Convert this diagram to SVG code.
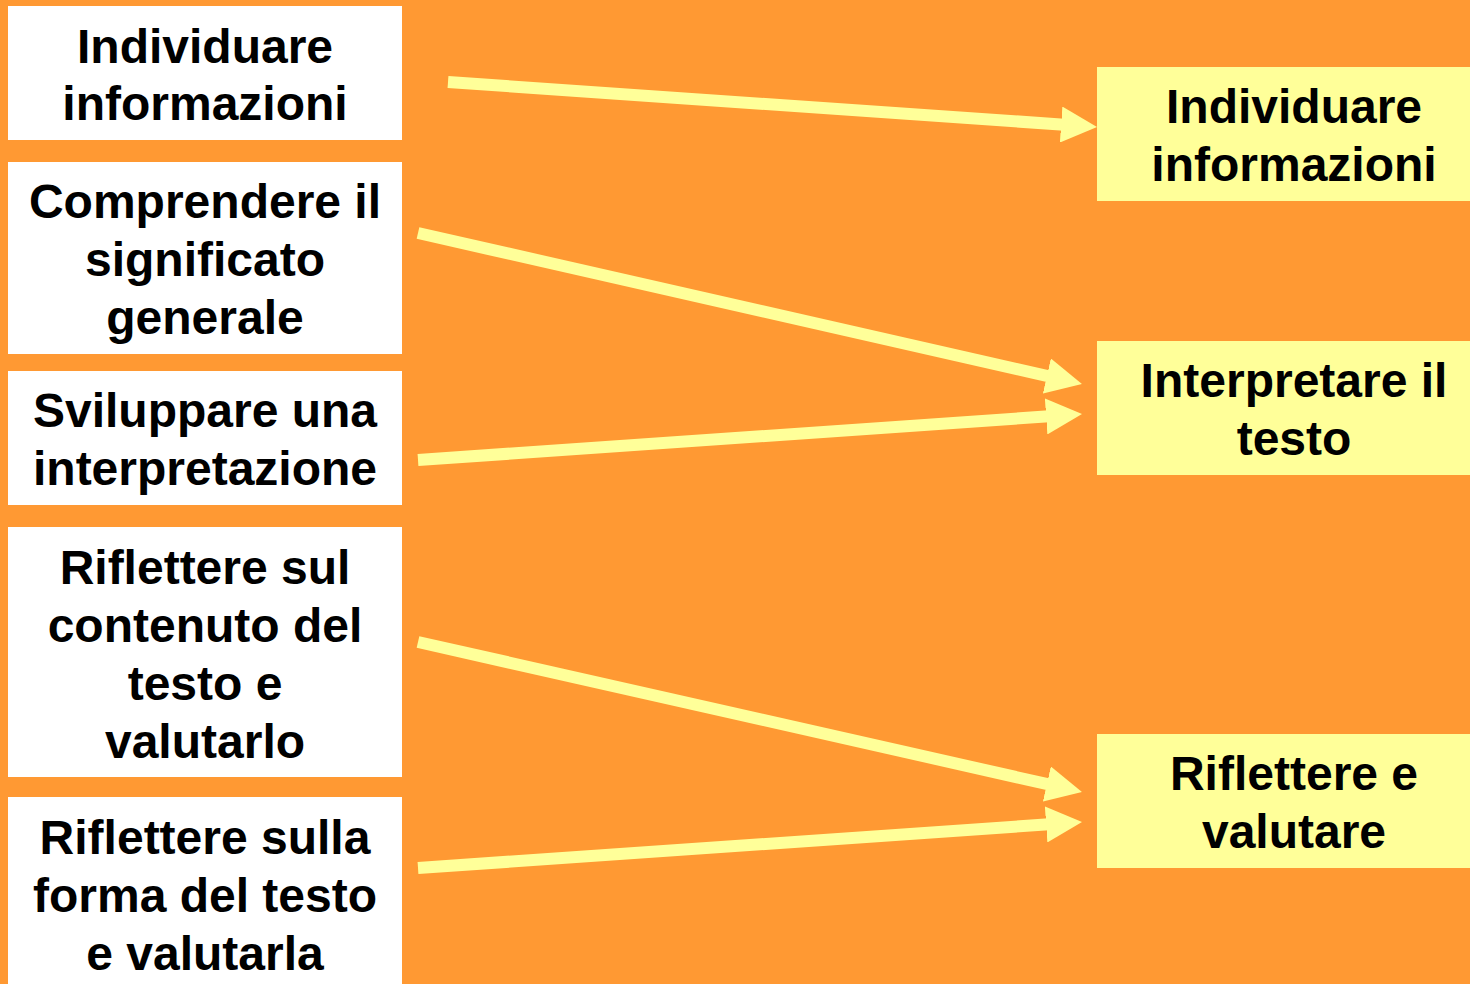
<svg xmlns="http://www.w3.org/2000/svg" width="1470" height="984" viewBox="0 0 1470 984">
<defs>
<style>
.l{fill:#FFFFFF}
.r{fill:#FFFF99}
text{font-family:"Liberation Sans",Arial,sans-serif;font-weight:bold;font-size:48px;fill:#000;text-anchor:middle}
.c line{stroke:#FFFF99;stroke-width:12;fill:none;marker-end:url(#ah)}
</style>
<marker id="ah" viewBox="0 0 36 36" markerWidth="3" markerHeight="3" refX="10" refY="18" orient="auto" markerUnits="strokeWidth">
<path d="M0,0 L36,18 L0,36 Z" fill="#FFFF99"/>
</marker>
</defs>
<rect x="0" y="0" width="1470" height="984" fill="#FF9933"/>
<g id="n1"><rect class="l" x="8" y="6" width="394" height="134"/><text x="205" y="63">Individuare</text><text x="205" y="120">informazioni</text></g>
<g id="n2"><rect class="l" x="8" y="162" width="394" height="192"/><text x="205" y="218">Comprendere il</text><text x="205" y="276">significato</text><text x="205" y="334">generale</text></g>
<g id="n3"><rect class="l" x="8" y="371" width="394" height="134"/><text x="205" y="427">Sviluppare una</text><text x="205" y="485">interpretazione</text></g>
<g id="n4"><rect class="l" x="8" y="527" width="394" height="250"/><text x="205" y="584">Riflettere sul</text><text x="205" y="642">contenuto del</text><text x="205" y="700">testo e</text><text x="205" y="758">valutarlo</text></g>
<g id="n5"><rect class="l" x="8" y="797" width="394" height="200"/><text x="205" y="854">Riflettere sulla</text><text x="205" y="912">forma del testo</text><text x="205" y="970">e valutarla</text></g>
<g id="m1"><rect class="r" x="1097" y="67" width="400" height="134"/><text x="1294" y="123">Individuare</text><text x="1294" y="181">informazioni</text></g>
<g id="m2"><rect class="r" x="1097" y="341" width="400" height="134"/><text x="1294" y="397">Interpretare il</text><text x="1294" y="455">testo</text></g>
<g id="m3"><rect class="r" x="1097" y="734" width="400" height="134"/><text x="1294" y="790">Riflettere e</text><text x="1294" y="848">valutare</text></g>
<g class="c" id="connectors">
<line x1="448" y1="82" x2="1071.1" y2="125.2"/>
<line x1="418" y1="233" x2="1056.6" y2="378.2"/>
<line x1="418" y1="460" x2="1056.1" y2="415.8"/>
<line x1="418" y1="642" x2="1056.6" y2="786.2"/>
<line x1="418" y1="868" x2="1056.1" y2="823.8"/>
</g>
</svg>
